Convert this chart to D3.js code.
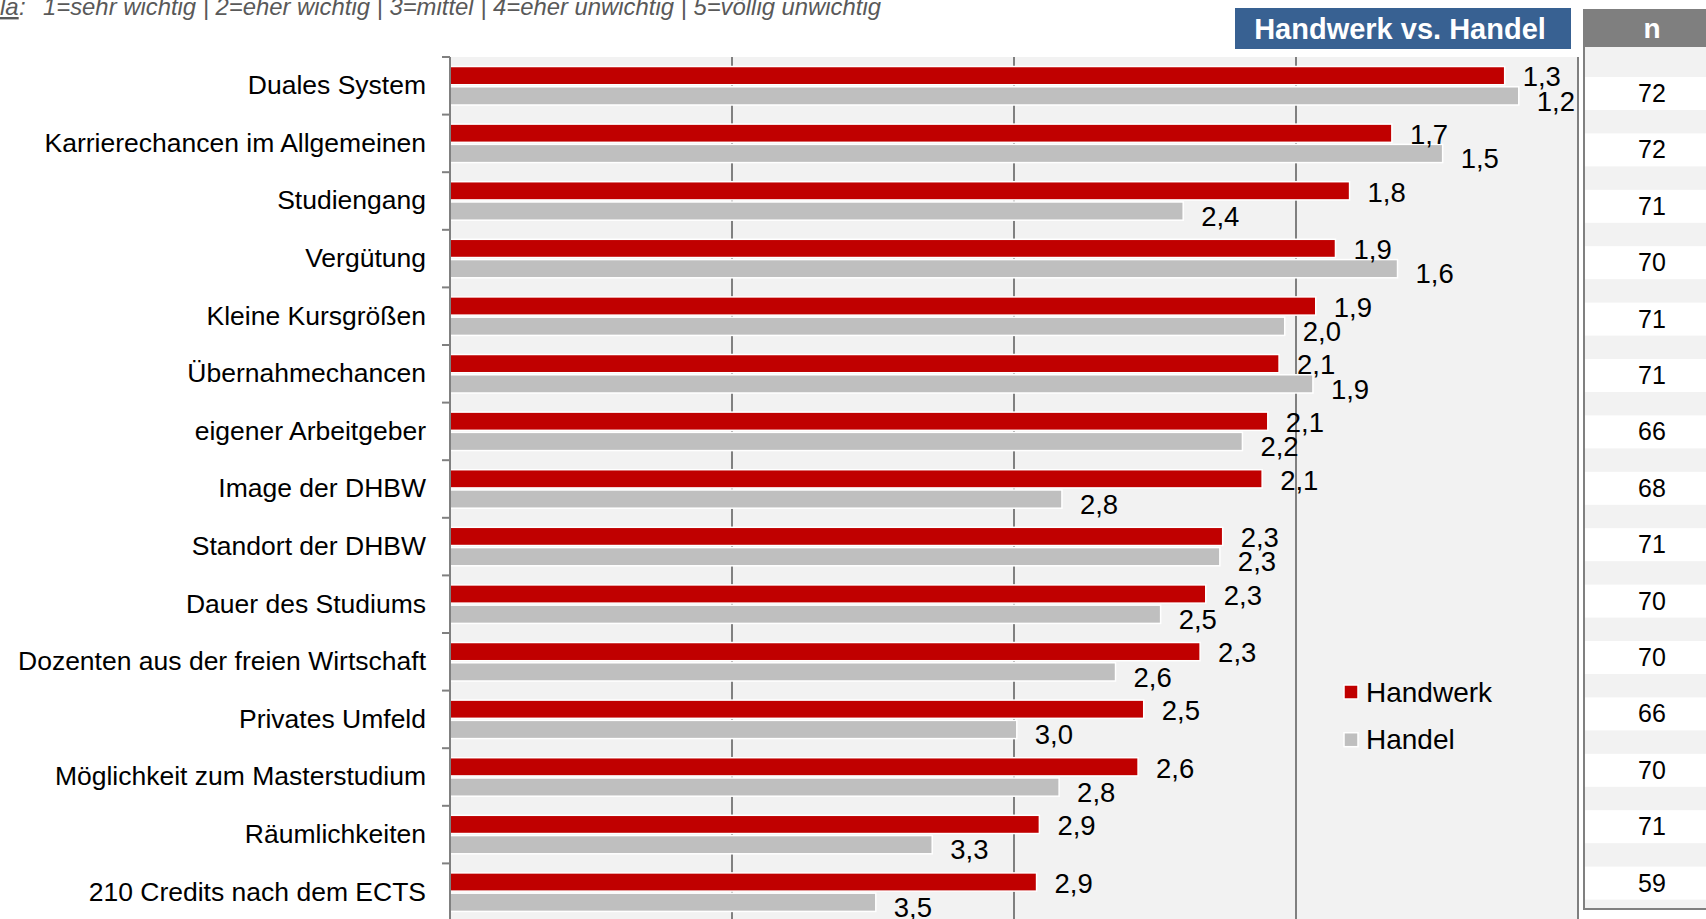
<!DOCTYPE html>
<html><head><meta charset="utf-8">
<script src="https://cdn.jsdelivr.net/npm/d3@7"></script>
<style>
html,body{margin:0;padding:0;background:#fff;overflow:hidden}
text{font-family:"Liberation Sans",Arial,sans-serif}
</style></head>
<body><svg id="chart" width="1706" height="919"></svg>
<script>
const categories = ["Duales System","Karrierechancen im Allgemeinen","Studiengang","Vergütung","Kleine Kursgrößen","Übernahmechancen","eigener Arbeitgeber","Image der DHBW","Standort der DHBW","Dauer des Studiums","Dozenten aus der freien Wirtschaft","Privates Umfeld","Möglichkeit zum Masterstudium","Räumlichkeiten","210 Credits nach dem ECTS"];
const handwerk = [1.26,1.66,1.81,1.86,1.93,2.06,2.10,2.12,2.26,2.32,2.34,2.54,2.56,2.91,2.92];
const handel   = [1.21,1.48,2.40,1.64,2.04,1.94,2.19,2.83,2.27,2.48,2.64,2.99,2.84,3.29,3.49];
const nValues  = [72,72,71,70,71,71,66,68,71,70,70,66,70,71,59];
const seriesNames = ["Handwerk","Handel"];
const xTicks = [4,3,2];
const scalePrefix = "la";
const scaleNote = "1=sehr wichtig | 2=eher wichtig | 3=mittel | 4=eher unwichtig | 5=völlig unwichtig";
const titleText = "Handwerk vs. Handel";

const colors = {Handwerk:"#c00000", Handel:"#bfbfbf"};
const svg = d3.select("#chart");
const fmt = v => d3.format(".1f")(v).replace(".", ",");

const plotL = 450, plotR = 1578, plotT = 57;
const x = d3.scaleLinear().domain([5,1]).range([plotL, plotR]);
const y = d3.scaleBand().domain(categories).range([plotT, plotT + 57.6*categories.length]).paddingInner(0);
const sub = d3.scaleBand().domain(seriesNames).range([9.5, 48]).paddingInner(0.1);

// plot background
svg.append("rect").attr("x", plotL).attr("y", plotT).attr("width", plotR-plotL).attr("height", 919-plotT).attr("fill","#f2f2f2");

// gridlines
svg.append("g").selectAll("line").data(xTicks).join("line")
  .attr("x1", d=>x(d)).attr("x2", d=>x(d)).attr("y1", plotT).attr("y2", 919)
  .attr("stroke","#808080").attr("stroke-width",2);
svg.append("line").attr("x1",plotR).attr("x2",plotR).attr("y1",plotT).attr("y2",919).attr("stroke","#808080").attr("stroke-width",2);

// bars
const rows = categories.map((c,i)=>({cat:c, vals:[{s:"Handwerk", v:handwerk[i]},{s:"Handel", v:handel[i]}]}));
const g = svg.append("g");
const rg = g.selectAll("g.row").data(rows).join("g").attr("class","row").attr("transform", d=>`translate(0,${y(d.cat)})`);
rg.selectAll("rect").data(d=>d.vals).join("rect")
  .attr("x", plotL).attr("y", d=>sub(d.s)).attr("width", d=>x(d.v)-plotL).attr("height", sub.bandwidth())
  .attr("fill", d=>colors[d.s]).attr("stroke","#fff").attr("stroke-width",1.5);
rg.selectAll("text.val").data(d=>d.vals).join("text").attr("class","val")
  .attr("x", d=>x(d.v)+18)
  .attr("y", d=>sub(d.s)+sub.bandwidth()/2 + (d.s==="Handwerk"?1:5) + 9.8)
  .attr("font-size", 27.5).attr("fill","#000").text(d=>fmt(d.v));

// y axis
const yAxis = d3.axisLeft(y).tickSize(0).tickPadding(24);
const ya = svg.append("g").attr("transform",`translate(${plotL},0)`).call(yAxis);
ya.select(".domain").remove();
ya.selectAll("text").attr("font-size",26.5).attr("fill","#000").attr("font-family","Liberation Sans, Arial, sans-serif");
svg.append("line").attr("x1",plotL).attr("x2",plotL).attr("y1",plotT).attr("y2",919).attr("stroke","#808080").attr("stroke-width",2);
svg.append("g").selectAll("line").data(categories.map((c,i)=>i)).join("line")
  .attr("x1",plotL-8).attr("x2",plotL).attr("y1",i=>y(categories[i])).attr("y2",i=>y(categories[i]))
  .attr("stroke","#808080").attr("stroke-width",2);

// legend
const lg = svg.append("g");
seriesNames.forEach((s,i)=>{
  const ly = 685 + i*47.7;
  lg.append("rect").attr("x",1344).attr("y",ly).attr("width",14).attr("height",14).attr("fill",colors[s]).attr("stroke","#fff").attr("stroke-width",1.5);
  lg.append("text").attr("x",1366).attr("y",ly+16.5).attr("font-size",28).attr("fill","#000").text(s);
});

// title box
svg.append("rect").attr("x",1235).attr("y",8).attr("width",336).attr("height",41).attr("fill","#386192");
svg.append("text").attr("x",1400).attr("y",39).attr("text-anchor","middle").attr("font-size",29).attr("font-weight","bold").attr("fill","#fff").text(titleText);

// scale note
svg.append("text").attr("x",0).attr("y",15).attr("font-size",24).attr("font-style","italic").attr("fill","#595959")
  .attr("text-decoration","underline").text(scalePrefix);
svg.append("text").attr("x",19).attr("y",15).attr("font-size",24).attr("font-style","italic").attr("fill","#595959").text(":");
svg.append("text").attr("x",43).attr("y",15).attr("font-size",24).attr("font-style","italic").attr("fill","#595959")
  .attr("textLength",838).attr("lengthAdjust","spacingAndGlyphs").text(scaleNote);

// n table
const tX = 1583, tW = 140;
svg.append("rect").attr("x",tX).attr("y",47).attr("width",tW).attr("height",862).attr("fill","#f2f2f2");
const ny = d3.scaleLinear().domain([0,1]).range([77, 77+56.4]);
svg.append("g").selectAll("rect").data(nValues).join("rect")
  .attr("x",tX).attr("y",(d,i)=>ny(i)).attr("width",tW).attr("height",33).attr("fill","#fff");
svg.append("g").selectAll("text").data(nValues).join("text")
  .attr("x",1652).attr("y",(d,i)=>ny(i)+25).attr("text-anchor","middle").attr("font-size",25).attr("fill","#000").text(d=>d);
svg.append("line").attr("x1",tX+1).attr("x2",tX+1).attr("y1",47).attr("y2",909).attr("stroke","#808080").attr("stroke-width",2);
svg.append("line").attr("x1",tX).attr("x2",tX+tW).attr("y1",909).attr("y2",909).attr("stroke","#808080").attr("stroke-width",2);
svg.append("rect").attr("x",tX).attr("y",9).attr("width",tW).attr("height",38).attr("fill","#7f7f7f");
svg.append("text").attr("x",1652).attr("y",38).attr("text-anchor","middle").attr("font-size",28).attr("font-weight","bold").attr("fill","#fff").text("n");
</script></body></html>
